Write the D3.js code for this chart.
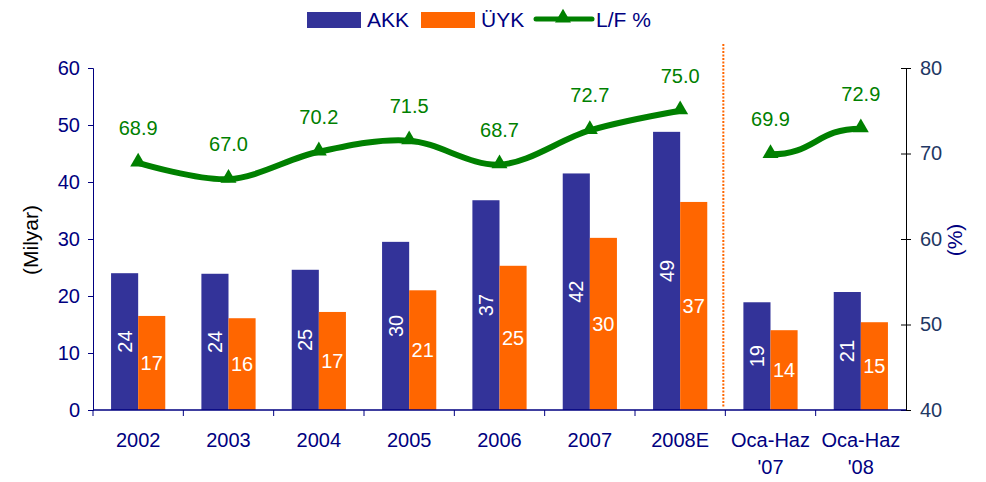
<html>
<head>
<meta charset="utf-8">
<title>AKK / ÜYK</title>
<script src="https://cdn.jsdelivr.net/npm/d3@7"></script>
<style>
  body { margin: 0; background: #fff; }
  text { font-family: Arial, "Liberation Sans", sans-serif; }
</style>
</head>
<body>
<script>
// data
var kategoriler = ["2002", "2003", "2004", "2005", "2006", "2007", "2008E", "Oca-Haz\n'07", "Oca-Haz\n'08"];
var akk = [24.0, 23.9, 24.6, 29.5, 36.8, 41.5, 48.8, 18.9, 20.7];
var uyk = [16.5, 16.1, 17.2, 21.0, 25.3, 30.2, 36.5, 14.0, 15.4];
var lf = [68.9, 67.0, 70.2, 71.5, 68.7, 72.7, 75.0, 69.9, 72.9];
var solTikler = [0, 10, 20, 30, 40, 50, 60];
var sagTikler = [40, 50, 60, 70, 80];

var width = 986, height = 482;
var pLeft = 93, pRight = 906, pTop = 68, pBottom = 410;
var mavi = "#333399", turuncu = "#FF6600", yesil = "#008000", lacivert = "#000080";

var svg = d3.select("body").append("svg")
  .attr("width", width).attr("height", height);

var x = d3.scaleBand().domain(kategoriler).range([pLeft, pRight])
  .paddingInner(0.4).paddingOuter(0.2);
var y = d3.scaleLinear().domain([0, 60]).range([pBottom, pTop]);
var y2 = d3.scaleLinear().domain([40, 80]).range([pBottom, pTop]);
var bw = x.bandwidth() / 2;

// bars
var g = svg.append("g");
g.selectAll(".akk").data(akk).enter().append("rect")
  .attr("x", (d, i) => x(kategoriler[i]))
  .attr("y", d => y(d)).attr("width", bw).attr("height", d => y(0) - y(d))
  .attr("fill", mavi);
g.selectAll(".uyk").data(uyk).enter().append("rect")
  .attr("x", (d, i) => x(kategoriler[i]) + bw)
  .attr("y", d => y(d)).attr("width", bw).attr("height", d => y(0) - y(d))
  .attr("fill", turuncu);

// bar labels
g.selectAll(".akkText").data(akk).enter().append("text")
  .attr("transform", (d, i) => "translate(" + (x(kategoriler[i]) + bw / 2) + "," + (y(d / 2)) + ") rotate(-90)")
  .attr("text-anchor", "middle").attr("dy", "0.35em")
  .attr("fill", "#fff").style("font-size", "20px")
  .text(d => Math.round(d));
g.selectAll(".uykText").data(uyk).enter().append("text")
  .attr("x", (d, i) => x(kategoriler[i]) + bw * 1.5)
  .attr("y", d => y(d / 2))
  .attr("text-anchor", "middle").attr("dy", "0.35em")
  .attr("fill", "#fff").style("font-size", "20px")
  .text(d => Math.round(d));

// separator
var sepX = x(kategoriler[7]) - x.step() * 0.2 - 2;
svg.append("line")
  .attr("x1", sepX).attr("x2", sepX).attr("y1", 44).attr("y2", pBottom - 2)
  .attr("stroke", turuncu).attr("stroke-width", 2).attr("stroke-dasharray", "2,1.5");

// L/F line, two pieces
var pts = lf.map((d, i) => [x(kategoriler[i]) + x.bandwidth() / 2, y2(d)]);
var line = d3.line().curve(d3.curveCatmullRom.alpha(0.5));
svg.append("path").attr("d", line(pts.slice(0, 7)))
  .attr("fill", "none").attr("stroke", yesil).attr("stroke-width", 6).attr("stroke-linejoin", "round");
svg.append("path").attr("d", d3.line().curve(d3.curveBumpX)(pts.slice(7)))
  .attr("fill", "none").attr("stroke", yesil).attr("stroke-width", 6).attr("stroke-linejoin", "round");

var tri = d3.symbol().type(d3.symbolTriangle).size(110);
svg.selectAll(".mk").data(pts).enter().append("path")
  .attr("d", tri).attr("transform", d => "translate(" + d[0] + "," + (d[1] - 1) + ")")
  .attr("fill", yesil);
svg.selectAll(".lfText").data(lf).enter().append("text")
  .attr("x", (d, i) => pts[i][0]).attr("y", (d, i) => pts[i][1] - 35)
  .attr("text-anchor", "middle").attr("dy", "0.35em")
  .attr("fill", yesil).style("font-size", "20px")
  .text(d => d.toFixed(1));

// left axis
var yAxis = svg.append("g").attr("transform", "translate(" + pLeft + ",0)")
  .call(d3.axisLeft(y).tickValues(solTikler).tickSize(5).tickPadding(8));
yAxis.selectAll("path, line").attr("stroke", lacivert);
yAxis.selectAll("text").attr("fill", lacivert).style("font-size", "20px");

// right axis
var y2Axis = svg.append("g").attr("transform", "translate(" + pRight + ",0)")
  .call(d3.axisRight(y2).tickValues(sagTikler).tickSize(5).tickPadding(9));
y2Axis.selectAll("path").attr("stroke", "#000");
y2Axis.selectAll("line").attr("stroke", "#000").attr("x1", -5);
y2Axis.selectAll("text").attr("fill", "#1F3864").style("font-size", "20px");

// x axis
var xg = svg.append("g");
xg.append("line").attr("x1", pLeft).attr("x2", pRight).attr("y1", pBottom).attr("y2", pBottom)
  .attr("stroke", lacivert).attr("stroke-width", 1.5);
xg.selectAll(".tk").data(kategoriler).enter().append("line")
  .attr("x1", d => x(d) - x.step() * 0.2).attr("x2", d => x(d) - x.step() * 0.2)
  .attr("y1", pBottom).attr("y2", pBottom + 6).attr("stroke", lacivert);
var cats = xg.selectAll(".cat").data(kategoriler).enter().append("text")
  .attr("x", d => x(d) + x.bandwidth() / 2).attr("y", 447)
  .attr("text-anchor", "middle").attr("fill", lacivert).style("font-size", "20px");
cats.each(function(d) {
  var el = d3.select(this);
  d.split("\n").forEach(function(s, k) {
    el.append("tspan").attr("x", el.attr("x")).attr("dy", k ? 27 : 0).text(s);
  });
});

// axis titles
svg.append("text").attr("transform", "translate(38,240) rotate(-90)")
  .attr("text-anchor", "middle").attr("fill", "#000").style("font-size", "21px").text("(Milyar)");
svg.append("text").attr("transform", "translate(962,240) rotate(-90)")
  .attr("text-anchor", "middle").attr("fill", lacivert).style("font-size", "21px").text("(%)");

// legend
var lg = svg.append("g");
lg.append("rect").attr("x", 307).attr("y", 12).attr("width", 54).attr("height", 16).attr("fill", mavi);
lg.append("text").attr("x", 367).attr("y", 27).attr("fill", lacivert).style("font-size", "21px").text("AKK");
lg.append("rect").attr("x", 421).attr("y", 12).attr("width", 54).attr("height", 16).attr("fill", turuncu);
lg.append("text").attr("x", 481).attr("y", 27).attr("fill", lacivert).style("font-size", "21px").text("ÜYK");
lg.append("line").attr("x1", 536).attr("x2", 592).attr("y1", 19).attr("y2", 19)
  .attr("stroke", yesil).attr("stroke-width", 5).attr("stroke-linecap", "round");
lg.append("path").attr("d", tri).attr("transform", "translate(563,18)").attr("fill", yesil);
lg.append("text").attr("x", 596).attr("y", 27).attr("fill", lacivert).style("font-size", "21px").text("L/F %");
</script>
</body>
</html>
